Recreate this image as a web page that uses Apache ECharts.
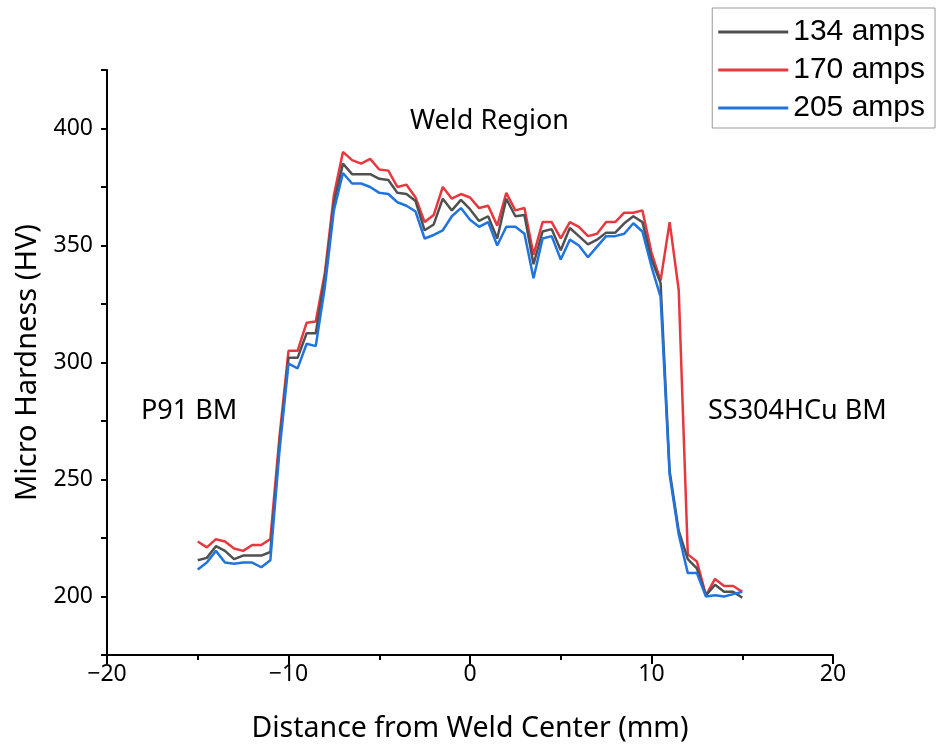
<!DOCTYPE html>
<html>
<head>
    <meta charset="utf-8">
    <title>Micro Hardness</title>
    <script src="https://cdn.jsdelivr.net/npm/echarts@6/dist/echarts.min.js"></script>
    <style>
        html, body { margin: 0; padding: 0; background: #fff; }
        #main { width: 940px; height: 746px; }
    </style>
</head>
<body>
    <div id="main"></div>
    <script>
        // distance from weld center (mm)
        var distance = [-15, -14.5, -14, -13.5, -13, -12.5, -12, -11.5, -11, -10.5,
            -10, -9.5, -9, -8.5, -8, -7.5, -7, -6.5, -6, -5.5,
            -5, -4.5, -4, -3.5, -3, -2.5, -2, -1.5, -1, -0.5,
            0, 0.5, 1, 1.5, 2, 2.5, 3, 3.5, 4, 4.5,
            5, 5.5, 6, 6.5, 7, 7.5, 8, 8.5, 9, 9.5,
            10, 10.5, 11, 11.5, 12, 12.5, 13, 13.5, 14, 14.5, 15];

        var amps134 = [215.5, 216.5, 221.5, 219.5, 216, 217.5, 217.5, 217.5, 219, 265,
            302, 302, 312.5, 312.5, 336, 368, 385, 380.5, 380.5, 380.5,
            378.5, 378, 372.5, 372, 369, 356.5, 359, 370, 365, 369.5,
            365.5, 360.5, 362.5, 353, 370, 362.5, 363, 342, 356, 357,
            348, 357.5, 354, 350.5, 352.5, 355.5, 355.5, 359.5, 362.5, 360,
            344, 334, 253.5, 228, 216, 212, 200.5, 205, 202, 202, 199.5];

        var amps170 = [223.5, 221, 224.5, 223.5, 220.5, 219.5, 222, 222, 224.5, 268,
            305, 305, 317, 317.5, 338, 371.5, 390, 386.5, 385, 387,
            382.5, 382, 375, 376, 370.5, 360, 363, 375, 370, 372,
            370.5, 366, 367, 358.5, 372.5, 365, 366, 346, 360, 360,
            353, 360, 358, 354, 355, 360, 360, 364, 364, 365,
            347, 335, 360, 331, 218, 215, 200.5, 207.5, 204.5, 204.5, 202];

        var amps205 = [211.5, 214.5, 219.5, 214.5, 214, 214.5, 214.5, 212.5, 215.5, 262,
            299.5, 297.5, 308, 307, 332, 365, 381, 376.5, 376.5, 375,
            372.5, 372, 368.5, 367, 364.5, 353, 354.5, 356.5, 362.5, 366,
            361, 358, 360, 350, 358, 358, 355, 336, 353, 354,
            344, 352.5, 350, 345, 349.5, 354, 354, 355, 359.5, 356,
            341, 328, 252, 226.5, 210, 210, 200, 200.5, 200, 201, 202];

        var seriesNames = ['134 amps', '170 amps', '205 amps'];
        var seriesColors = ['#505050', '#e8383f', '#1f74e0'];

        function pairs(ys) {
            return ys.map(function (y, i) { return [distance[i], y]; });
        }

        var font = 'Noto Sans';
        var chart = echarts.init(document.getElementById('main'));

        var option = {
            animation: false,
            backgroundColor: '#fff',
            grid: { left: 107, right: 107, top: 70, bottom: 91, outerBoundsMode: 'none' },
            legend: {
                orient: 'vertical',
                right: 5,
                top: 8,
                padding: [9, 10, 5, 6],
                itemGap: 8,
                icon: 'rect',
                itemWidth: 70,
                itemHeight: 3,
                borderColor: '#999',
                borderWidth: 1,
                borderRadius: 0,
                textStyle: { fontSize: 30, color: '#000', fontFamily: 'Liberation Sans' },
                data: seriesNames
            },
            xAxis: {
                type: 'value',
                min: -20,
                max: 20,
                interval: 10,
                name: 'Distance from Weld Center (mm)',
                nameLocation: 'middle',
                nameGap: 59,
                nameTextStyle: { fontSize: 28.5, color: '#000', fontFamily: font },
                axisLine: { onZero: false, lineStyle: { color: '#000', width: 2 } },
                axisTick: { length: 9, lineStyle: { color: '#000', width: 2 } },
                minorTick: { show: true, splitNumber: 2, length: 5, lineStyle: { color: '#000', width: 2 } },
                axisLabel: {
                    fontSize: 23, color: '#000', fontFamily: font, margin: 8,
                    formatter: function (v) { return v < 0 ? '\u2212' + Math.abs(v) : v; }
                },
                splitLine: { show: false }
            },
            yAxis: {
                type: 'value',
                min: 175,
                max: 425,
                interval: 25,
                name: 'Micro Hardness (HV)',
                nameLocation: 'middle',
                nameGap: 62,
                nameTextStyle: { fontSize: 29, color: '#000', fontFamily: font },
                axisLine: { show: true, onZero: false, lineStyle: { color: '#000', width: 2 } },
                axisTick: { show: true, length: 6, lineStyle: { color: '#000', width: 2 } },
                axisLabel: {
                    fontSize: 23, color: '#000', fontFamily: font, margin: 14,
                    formatter: function (v) { return v % 50 === 0 ? v : ''; }
                },
                splitLine: { show: false }
            },
            graphic: [
                { type: 'text', left: 410, top: 108, style: { text: 'Weld Region', fontSize: 27, fill: '#000', fontFamily: font } },
                { type: 'text', left: 141, top: 398, style: { text: 'P91 BM', fontSize: 27, fill: '#000', fontFamily: font } },
                { type: 'text', left: 708, top: 398, style: { text: 'SS304HCu BM', fontSize: 27, fill: '#000', fontFamily: font } }
            ],
            series: [amps134, amps170, amps205].map(function (ys, k) {
                return {
                    name: seriesNames[k],
                    type: 'line',
                    symbol: 'none',
                    z: k === 1 ? 2 : (k === 0 ? 3 : 4),
                    lineStyle: { width: 2.5, color: seriesColors[k] },
                    itemStyle: { color: seriesColors[k] },
                    data: pairs(ys)
                };
            })
        };

        chart.setOption(option);
    </script>
</body>
</html>
